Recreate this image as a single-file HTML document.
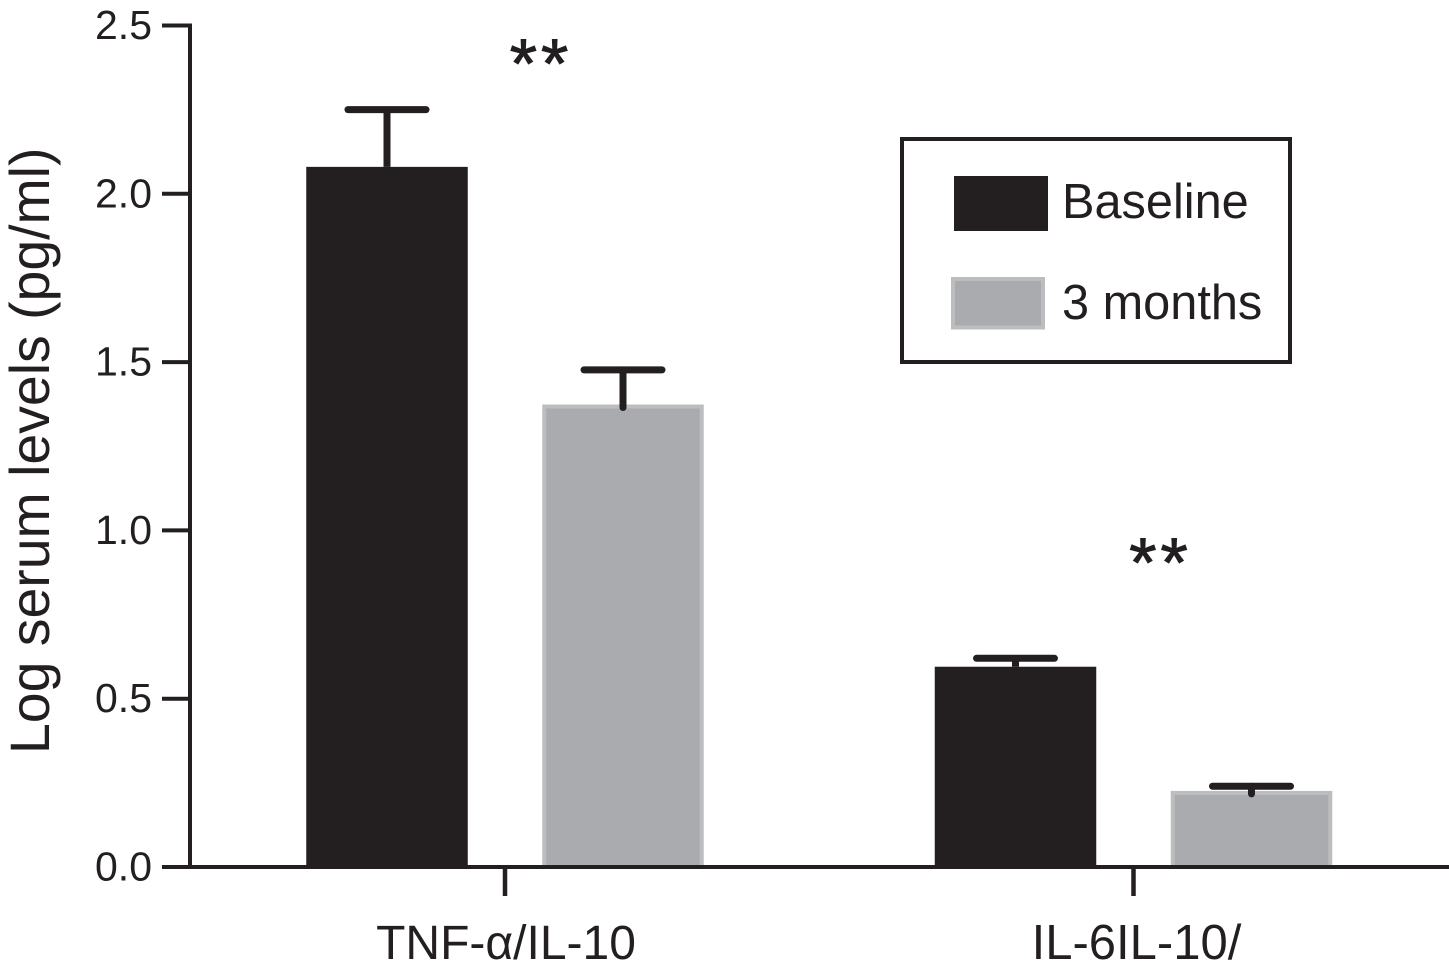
<!DOCTYPE html>
<html lang="en">
<head>
<meta charset="utf-8">
<title>Log serum levels at baseline and 3 months</title>
<style>
  html, body { margin: 0; padding: 0; background: #ffffff; }
  body { width: 1449px; height: 972px; overflow: hidden; }
  svg { display: block; }
  text { font-family: "Liberation Sans", "DejaVu Sans", sans-serif; fill: #231f20; }
</style>
</head>
<body>
<svg id="chart" xmlns="http://www.w3.org/2000/svg" width="1449" height="972" viewBox="0 0 1449 972">
  <rect x="0" y="0" width="1449" height="972" fill="#ffffff"/>
  <g id="marks"></g>
  <g id="axes"></g>
  <text transform="translate(49,754) rotate(-90)" font-size="55.4">Log serum levels (pg/ml)</text>
  <g>
    <rect x="902" y="139" width="388" height="223" fill="#ffffff" stroke="#231f20" stroke-width="4"/>
    <rect x="954" y="176" width="94" height="55" fill="#231f20"/>
    <text x="1062" y="218" font-size="48.7">Baseline</text>
    <rect x="953" y="279" width="90" height="48.5" fill="#a9abae" stroke="#bbbdbf" stroke-width="4"/>
    <text x="1062" y="319" font-size="48.7">3 months</text>
  </g>
</svg>
<script>
const categories = ["TNF-\u03b1/IL-10", "IL-6IL-10/"];
const baselineValues = [2.08, 0.595];
const threeMonthValues = [1.374, 0.226];
const baselineUpper = [2.25, 0.62];
const threeMonthUpper = [1.477, 0.24];
const significance = ["**", "**"];
const yTicks = ["0.0", "0.5", "1.0", "1.5", "2.0", "2.5"];

const SVGNS = "http://www.w3.org/2000/svg";
const marks = document.getElementById("marks");
const axes = document.getElementById("axes");
const INK = "#231f20";

function yScale(v) { return 867 - v * 336.6; }
function xScale(i) { return 505 + i * 628.5; }

function make(tag, parent, attrs) {
  const el = document.createElementNS(SVGNS, tag);
  for (const k in attrs) el.setAttribute(k, attrs[k]);
  parent.appendChild(el);
  return el;
}

const BAR_OFFSET = 118;
const BAR_WIDTH = 161.5;
const CAP_HALF = 39;

function drawBar(parent, cx, value, upper, isGray, name) {
  const top = yScale(value);
  const base = yScale(0);
  let bar;
  if (isGray) {
    bar = make("rect", parent, {
      x: cx - BAR_WIDTH / 2 + 2, y: top + 2,
      width: BAR_WIDTH - 4, height: base - top - 2,
      fill: "#a9abae", stroke: "#bbbdbf", "stroke-width": 4
    });
  } else {
    bar = make("rect", parent, {
      x: cx - BAR_WIDTH / 2, y: top,
      width: BAR_WIDTH, height: base - top, fill: INK
    });
  }
  
  

  const capY = yScale(upper);
  const stem = make("line", parent, {
    x1: cx, x2: cx, y1: capY, y2: top + (isGray ? 3 : 0),
    stroke: INK, "stroke-width": 7, "stroke-linecap": isGray ? "round" : "butt"
  });
  
  

  const cap = make("line", parent, {
    x1: cx - CAP_HALF, x2: cx + CAP_HALF, y1: capY, y2: capY,
    stroke: INK, "stroke-width": 7, "stroke-linecap": "round"
  });
  
  
}

categories.forEach(function (cat, i) {
  const c = xScale(i);
  const key = i === 0 ? "tnf" : "il6";
  drawBar(marks, c - BAR_OFFSET, baselineValues[i], baselineUpper[i], false, key + "-baseline");
  drawBar(marks, c + BAR_OFFSET, threeMonthValues[i], threeMonthUpper[i], true, key + "-3-months");

  const star = make("text", marks, {
    x: c + (i === 0 ? 36 : 27), y: yScale(baselineUpper[i]) - (i === 0 ? 22 : 72),
    "font-size": 70, "text-anchor": "middle", "letter-spacing": 4,
    stroke: INK, "stroke-width": 1
  });
  star.textContent = significance[i];
  
  

  const tick = make("line", axes, {
    x1: c, x2: c, y1: yScale(0), y2: 896, stroke: INK, "stroke-width": 4.5
  });
  
  

  const label = make("text", axes, {
    x: c + (i === 0 ? 1 : 3), y: 959, "font-size": i === 0 ? 48 : 49, "text-anchor": "middle"
  });
  label.textContent = cat;
  
  
});

const yAxisLine = make("line", axes, {
  x1: 190, x2: 190, y1: yScale(2.5) - 2, y2: yScale(0) + 2, stroke: INK, "stroke-width": 4
});



const xAxisLine = make("line", axes, {
  x1: 188, x2: 1449, y1: yScale(0), y2: yScale(0), stroke: INK, "stroke-width": 4
});



yTicks.forEach(function (t) {
  const y = yScale(parseFloat(t));
  const tick = make("line", axes, {
    x1: 162, x2: 190, y1: y, y2: y, stroke: INK, "stroke-width": 4
  });
  
  

  const label = make("text", axes, {
    x: 152, y: y + 13.5, "font-size": 41, "text-anchor": "end"
  });
  label.textContent = t;
  
  
});
</script>
</body>
</html>
